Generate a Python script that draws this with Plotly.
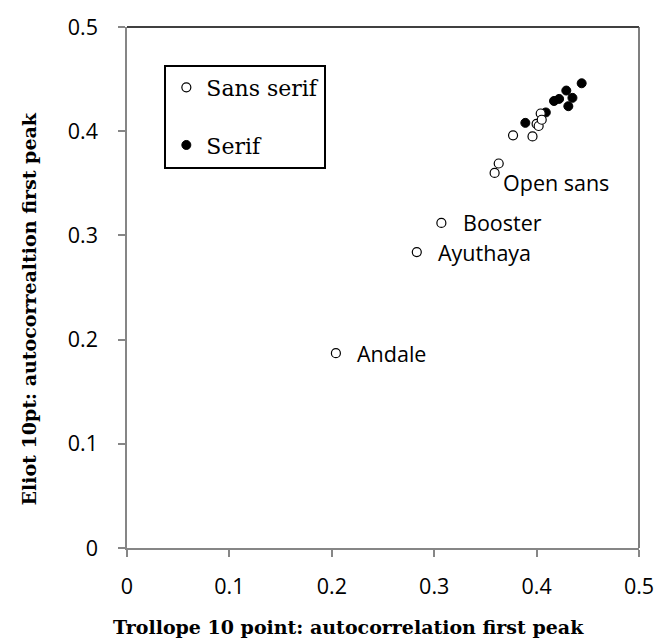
import plotly.graph_objects as go

# Sans serif fonts (hollow markers)
sans_x = [0.377, 0.396, 0.400, 0.402, 0.404, 0.405, 0.363, 0.359, 0.307, 0.283, 0.204]
sans_y = [0.396, 0.395, 0.407, 0.405, 0.417, 0.411, 0.369, 0.360, 0.312, 0.284, 0.187]
# Serif fonts (filled markers)
serif_x = [0.389, 0.409, 0.417, 0.422, 0.431, 0.435, 0.429, 0.444]
serif_y = [0.408, 0.418, 0.429, 0.431, 0.424, 0.432, 0.439, 0.446]

# labelled sans serif points: index into sans arrays, name
label_idx = [7, 8, 9, 10]
label_names = ["Open sans", "Booster", "Ayuthaya", "Andale"]
label_dx = [6, 20, 19, 19]
label_dy = [-10, 0, 0, 0]

tick_vals = [0, 0.1, 0.2, 0.3, 0.4, 0.5]
tick_text = ["0", "0.1", "0.2", "0.3", "0.4", "0.5"]

fig = go.Figure()
fig.add_trace(go.Scatter(
    x=serif_x, y=serif_y, mode="markers", name="Serif",
    legendgroup="b", legendrank=2,
    marker=dict(symbol="circle", size=9, color="black", line=dict(color="black", width=1)),
))
fig.add_trace(go.Scatter(
    x=sans_x, y=sans_y, mode="markers", name="Sans serif",
    legendgroup="a", legendrank=1,
    marker=dict(symbol="circle", size=9, color="white", line=dict(color="black", width=1.2)),
))

for i, name, dx, dy in zip(label_idx, label_names, label_dx, label_dy):
    fig.add_annotation(
        x=sans_x[i], y=sans_y[i], text=name, showarrow=False,
        xanchor="left", yanchor="middle", xshift=dx, yshift=dy,
        font=dict(family="Open Sans", size=21.5, color="black"),
    )

axis_common = dict(
    range=[0, 0.5], tickvals=tick_vals, ticktext=tick_text,
    showgrid=False, zeroline=False, showline=True, linecolor="#868686", linewidth=1.5,
    ticks="outside", ticklen=7, tickcolor="#868686", tickwidth=1.5,
    tickfont=dict(family="Open Sans", size=21.5, color="black"),
    ticklabeloverflow="allow",
)
fig.update_xaxes(**axis_common, ticklabelstandoff=11)
fig.update_yaxes(**axis_common, ticklabelstandoff=16)

# frame top/right
fig.add_shape(type="line", xref="paper", yref="paper", x0=0, x1=1, y0=1, y1=1,
              line=dict(color="black", width=1.5), layer="below")
fig.add_shape(type="line", xref="paper", yref="paper", x0=1, x1=1, y0=0, y1=1,
              line=dict(color="#555555", width=1.5), layer="below")

fig.add_annotation(
    text="<b>Trollope 10 point: autocorrelation first peak</b>",
    xref="paper", yref="paper", x=(352 - 127) / 521, y=(548 - 628) / 527,
    xanchor="center", yanchor="middle", showarrow=False,
    font=dict(family="DejaVu Serif", size=19, color="black"),
)
fig.add_annotation(
    text="<b>Eliot 10pt: autocorrealtion first peak</b>",
    xref="paper", yref="paper", x=(27 - 127) / 521, y=(548 - 306) / 527,
    xanchor="center", yanchor="middle", showarrow=False, textangle=-90,
    font=dict(family="DejaVu Serif", size=19, color="black"),
)

fig.update_layout(
    width=666, height=641,
    margin=dict(l=127, r=18, t=21, b=93),
    paper_bgcolor="white", plot_bgcolor="white",
    showlegend=True,
    legend=dict(
        x=(165 - 127) / 521, y=(548 - 59) / 527, xanchor="left", yanchor="top",
        bordercolor="black", borderwidth=2, bgcolor="white",
        font=dict(family="DejaVu Serif", size=22, color="black"),
        tracegroupgap=26,
    ),
)

# remove the default page margin so the figure fills the window exactly
fig.write_html(
    "out.html",
    config={"displayModeBar": False},
    post_script="document.body.style.margin='0';document.body.style.overflow='hidden';",
)
